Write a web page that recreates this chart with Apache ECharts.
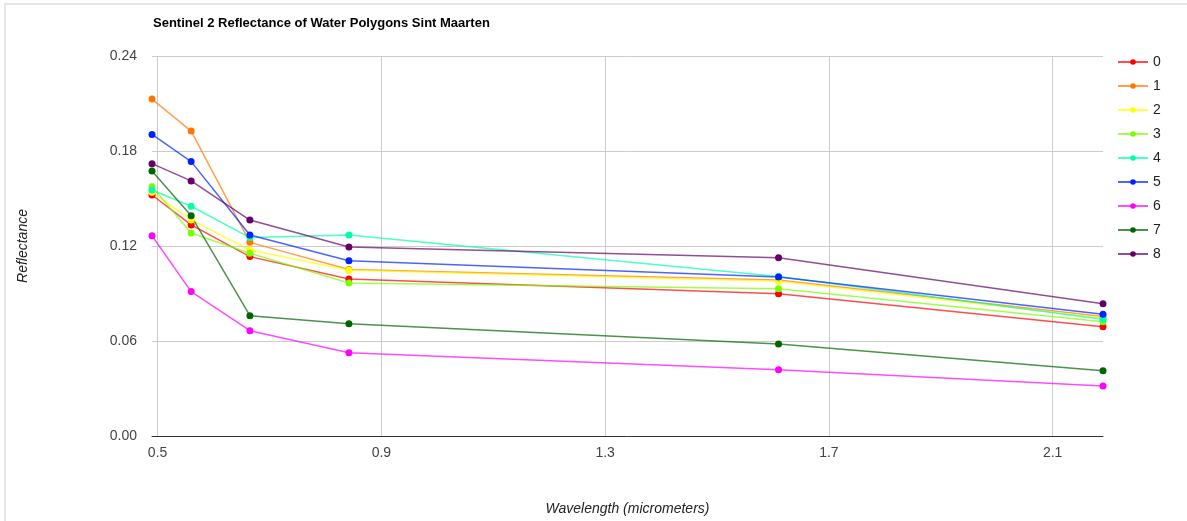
<!DOCTYPE html>
<html>
<head>
<meta charset="utf-8">
<script src="https://cdn.jsdelivr.net/npm/echarts@6/dist/echarts.min.js"></script>
<style>
  html, body { margin: 0; padding: 0; background: #fff; overflow: hidden; }
  #frame { position: absolute; left: 4px; top: 3px; width: 1200px; height: 540px; border-top: 2px solid #e6e6e6; border-left: 2px solid #e6e6e6; }
  #chart { position: absolute; left: 0; top: 0; width: 1187px; height: 521px; }
</style>
</head>
<body>
<div id="frame"></div>
<div id="chart"></div>
<script>
// Sentinel 2 band centres (micrometers)
const wavelengths = [0.49, 0.56, 0.665, 0.842, 1.61, 2.19];
const xTicks = [0.5, 0.9, 1.3, 1.7, 2.1];

const s0 = [0.1522, 0.1333, 0.1133, 0.0992, 0.0899, 0.0690];
const s1 = [0.2128, 0.1926, 0.1223, 0.1052, 0.0985, 0.0755];
const s2 = [0.1540, 0.1365, 0.1175, 0.1047, 0.0977, 0.0745];
const s3 = [0.1575, 0.1282, 0.1154, 0.0966, 0.0930, 0.0722];
const s4 = [0.1554, 0.1451, 0.1253, 0.1270, 0.1007, 0.0738];
const s5 = [0.1905, 0.1733, 0.1270, 0.1107, 0.1004, 0.0769];
const s6 = [0.1265, 0.0912, 0.0665, 0.0526, 0.0419, 0.0316];
const s7 = [0.1674, 0.1391, 0.0760, 0.0709, 0.0581, 0.0412];
const s8 = [0.1720, 0.1611, 0.1364, 0.1194, 0.1126, 0.0836];

const names = ['0', '1', '2', '3', '4', '5', '6', '7', '8'];
const values = [s0, s1, s2, s3, s4, s5, s6, s7, s8];
const colors = ['#ff0000', '#ff7700', '#ffff00', '#77ff00', '#00ffaa', '#0022ff', '#ff00ff', '#006400', '#660066'];

const font = "'Liberation Sans', Arial, sans-serif";

const chart = echarts.init(document.getElementById('chart'));

const option = {
  animation: false,
  textStyle: { fontFamily: font },
  title: {
    text: 'Sentinel 2 Reflectance of Water Polygons Sint Maarten',
    left: 148,
    top: 12,
    textStyle: { fontSize: 13, fontWeight: 'bold', color: '#000', fontFamily: font }
  },
  legend: {
    orient: 'vertical',
    left: 1112,
    top: 50,
    itemWidth: 30,
    itemHeight: 7,
    itemGap: 10,
    data: names,
    textStyle: { fontSize: 14, color: '#222', fontFamily: font }
  },
  grid: { left: 152, right: 84, top: 56, bottom: 85 },
  xAxis: {
    type: 'value',
    min: 0.49,
    max: 2.19,
    name: 'Wavelength (micrometers)',
    nameLocation: 'middle',
    nameGap: 66,
    nameTextStyle: { fontSize: 14, fontStyle: 'italic', color: '#222', fontFamily: font },
    axisLine: { show: true, lineStyle: { color: '#333', width: 1 } },
    axisTick: { show: false, customValues: xTicks },
    axisLabel: {
      customValues: xTicks,
      formatter: v => v.toFixed(1),
      fontSize: 14, color: '#444', margin: 10, fontFamily: font
    },
    splitLine: { show: true, lineStyle: { color: '#cccccc', width: 1 } }
  },
  yAxis: {
    type: 'value',
    min: 0,
    max: 0.24,
    interval: 0.06,
    name: 'Reflectance',
    nameLocation: 'middle',
    nameGap: 122,
    nameTextStyle: { fontSize: 14, fontStyle: 'italic', color: '#222', fontFamily: font },
    axisLine: { show: false },
    axisTick: { show: false },
    axisLabel: {
      formatter: v => v.toFixed(2),
      fontSize: 14, color: '#444', margin: 15, fontFamily: font
    },
    splitLine: { show: true, lineStyle: { color: '#cccccc', width: 1 } }
  },
  series: names.map((n, i) => ({
    name: n,
    type: 'line',
    data: wavelengths.map((w, j) => [w, values[i][j]]),
    symbol: 'circle',
    symbolSize: 7,
    color: colors[i],
    lineStyle: { width: 1.5, opacity: 0.7 },
    itemStyle: { color: colors[i] }
  }))
};

chart.setOption(option);
</script>
</body>
</html>
